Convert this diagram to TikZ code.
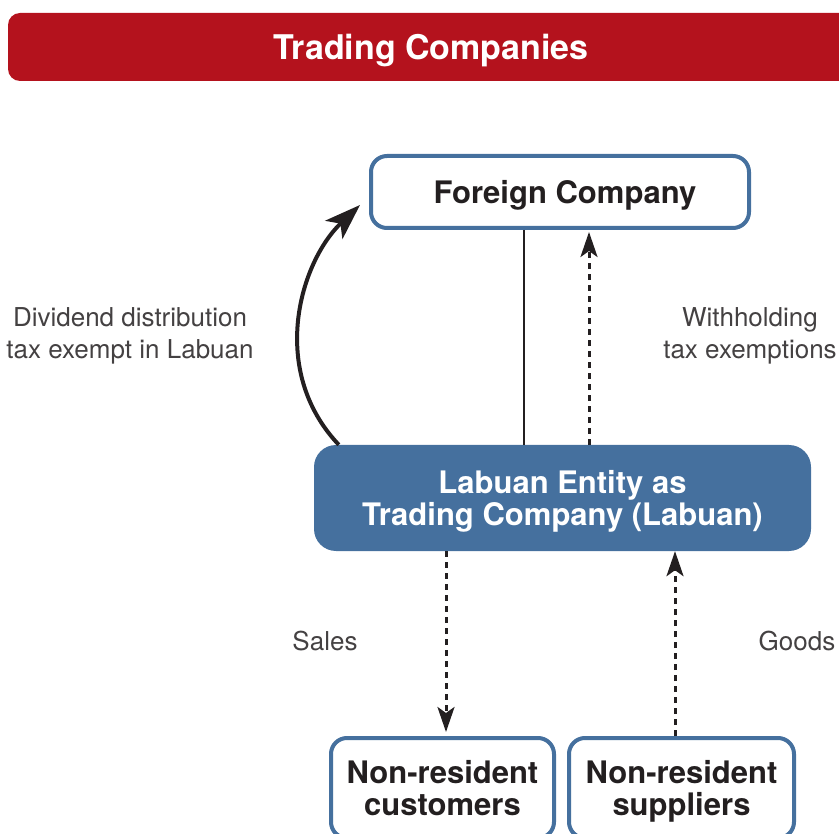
\documentclass[tikz,border=0pt]{standalone}
\usepackage{fontspec}
\setmainfont{TeX Gyre Heros}
\usetikzlibrary{arrows.meta}
\definecolor{barred}{RGB}{180,18,29}
\definecolor{boxblue}{RGB}{69,112,158}
\definecolor{ink}{RGB}{35,31,32}
\begin{document}
\begin{tikzpicture}[x=1pt,y=-1pt,
  frame/.style={draw=boxblue, line width=4pt, rounded corners=16pt, fill=white,
    text=ink, font=\fontsize{31}{32}\bfseries\selectfont, align=center, inner sep=0pt},
  note/.style={text=ink!85, font=\fontsize{26}{32}\selectfont, align=center, inner sep=0pt},
  tip/.style={-{Stealth[length=25pt,width=17pt,inset=6pt]}},
  flow/.style={tip, ink, line width=3pt, dash pattern=on 6pt off 5pt},
]
\useasboundingbox (0,0) rectangle (839,834);

% heading bar
\node (title) [fill=barred, rounded corners=12pt, minimum width=846, minimum height=68,
  text=white, font=\fontsize{34}{36}\bfseries\selectfont, inner sep=0pt, text depth=0pt]
  at (431,47) {Trading Companies};

% companies
\node (foreign) [frame, minimum width=378, minimum height=72, text depth=0pt] at (560,192)
  {\hspace*{10pt}Foreign Company};
\node (labuan) [fill=boxblue, rounded corners=22pt, minimum width=497, minimum height=106,
  text=white, font=\fontsize{31}{32}\bfseries\selectfont, align=center, inner sep=0pt,
  text depth=0pt]
  at (562.5,498) {Labuan Entity as\\Trading Company (Labuan)};
\node (cust) [frame, minimum width=223, minimum height=100, anchor=north, text depth=0pt]
  at (442.5,736) {Non-resident\\customers};
\node (supp) [frame, minimum width=225, minimum height=100, anchor=north, text depth=0pt]
  at (681.5,736) {Non-resident\\suppliers};

% side notes
\node (divnote) [note] at (130,336) {Dividend distribution\\tax exempt in Labuan};
\node (whtnote) [note] at (750,336) {Withholding\\tax exemptions};
\node (salesnote) [note] at (325,641) {Sales};
\node (goodsnote) [note] at (797,641) {Goods};

% ownership link
\draw[ink, line width=2.5pt] ([xshift=-36pt]foreign.south) -- ([xshift=-36pt]foreign.south |- labuan.north);

% dividend flow
\draw[ink, line width=4pt, -{Stealth[length=36pt,width=25pt,inset=9pt]}]
  ([xshift=25pt]labuan.north west) .. controls (268,370) and (300,262) ..
  ([xshift=-9pt,yshift=-13pt]foreign.west);

% withholding flow
\draw[flow, shorten >=2pt] ([xshift=29pt]foreign.south |- labuan.north) -- ([xshift=29pt]foreign.south);

% sales and goods
\draw[flow, shorten >=4pt] ([xshift=3.5pt]cust.north |- labuan.south) -- ([xshift=3.5pt]cust.north);
\draw[flow] ([xshift=-6.5pt]supp.north) -- ([xshift=-6.5pt]supp.north |- labuan.south);
\end{tikzpicture}
\end{document}
